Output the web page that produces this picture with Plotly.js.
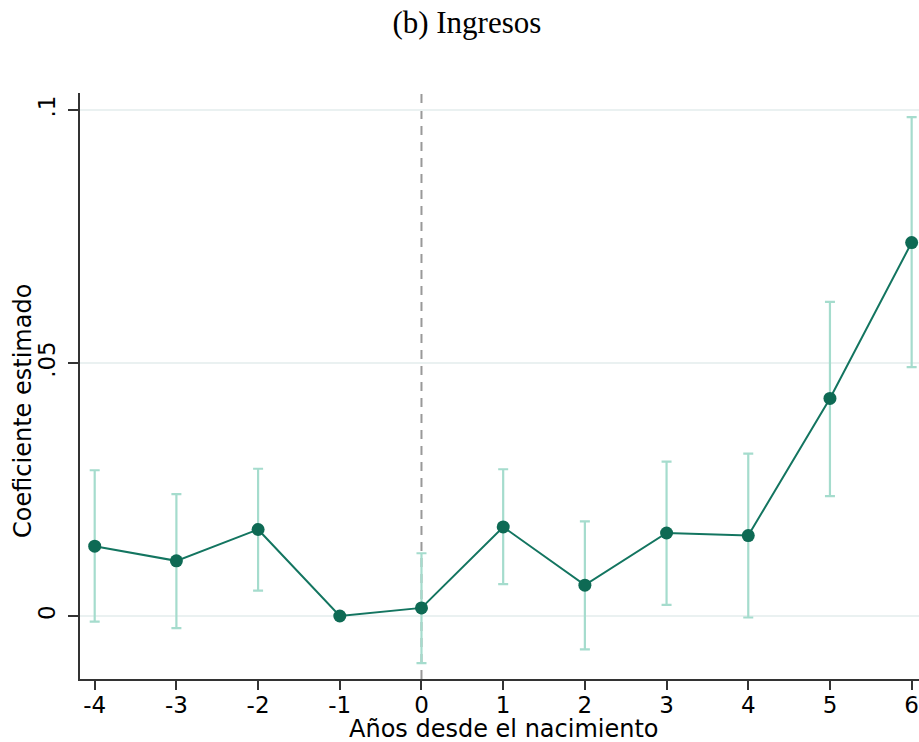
<!DOCTYPE html>
<html>
<head>
<meta charset="utf-8">
<script src="https://cdn.plot.ly/plotly-3.0.1.min.js"></script>
<style>html,body{margin:0;padding:0;background:#fff;}#chart{width:919px;height:742px;}</style>
</head>
<body>
<div id="chart"></div>
<script>
const years = [-4, -3, -2, -1, 0, 1, 2, 3, 4, 5, 6];
const coef  = [0.0138, 0.0109, 0.0171, 0.0, 0.0016, 0.0176, 0.0061, 0.0164, 0.0159, 0.0430, 0.0738];
const ciLow = [-0.0011, -0.0024, 0.0050, 0.0, -0.0093, 0.0063, -0.0066, 0.0022, -0.0003, 0.0237, 0.0492];
const ciHigh= [0.0288, 0.0241, 0.0291, 0.0, 0.0124, 0.0290, 0.0187, 0.0305, 0.0321, 0.0621, 0.0986];
const yTickVals = [0, 0.05, 0.1];
const yTickText = ['0', '.05', '.1'];
const xTickVals = [-4, -3, -2, -1, 0, 1, 2, 3, 4, 5, 6];

const font = 'DejaVu Sans, sans-serif';

const traces = [
  {
    x: years, y: coef, type: 'scatter', mode: 'markers',
    marker: {size: 0.1, color: 'rgba(0,0,0,0)'},
    error_y: {
      type: 'data', symmetric: false,
      array: ciHigh.map((h, i) => h - coef[i]),
      arrayminus: coef.map((c, i) => c - ciLow[i]),
      color: '#a5dccd', thickness: 2.2, width: 5
    },
    hoverinfo: 'skip', showlegend: false
  },
  {
    x: years, y: coef, type: 'scatter', mode: 'lines+markers',
    line: {color: '#137560', width: 2},
    marker: {color: '#0e6a54', size: 13},
    showlegend: false
  }
];

const layout = {
  width: 919, height: 742,
  margin: {l: 80, r: 0, t: 93, b: 63},
  paper_bgcolor: '#fff', plot_bgcolor: '#fff',
  title: {text: '(b) Ingresos', font: {family: 'Liberation Serif, serif', size: 31, color: '#000'},
          x: 0.508, xanchor: 'center', y: 0.97, yanchor: 'middle', yref: 'container'},
  xaxis: {
    range: [-4.18, 6.09], tickvals: xTickVals, ticktext: xTickVals.map(String),
    showgrid: false, zeroline: false,
    showline: true, linecolor: '#333', linewidth: 2,
    ticks: 'outside', ticklen: 9, tickwidth: 2, tickcolor: '#333',
    ticklabeloverflow: 'allow', ticklabelstandoff: -5,
    tickfont: {family: font, size: 23, color: '#000'}
  },
  yaxis: {
    range: [-0.01245, 0.10336], tickvals: yTickVals, ticktext: yTickText,
    showgrid: true, gridcolor: '#eaf1f1', gridwidth: 1.5, zeroline: false,
    showline: true, linecolor: '#333', linewidth: 2,
    ticks: 'outside', ticklen: 10, tickwidth: 2, tickcolor: '#333',
    tickangle: -90, ticklabelstandoff: 4,
    tickfont: {family: font, size: 23, color: '#000'}
  },
  annotations: [
    {
      text: 'Años desde el nacimiento', xref: 'paper', yref: 'paper', x: 0.505, y: 0,
      xanchor: 'center', yanchor: 'middle', yshift: -50, showarrow: false,
      font: {family: font, size: 24, color: '#000'}
    },
    {
      text: 'Coeficiente estimado', xref: 'paper', yref: 'paper', x: 0, y: 0.5,
      xanchor: 'center', yanchor: 'middle', xshift: -57, yshift: -25, textangle: -90, showarrow: false,
      font: {family: font, size: 24, color: '#000'}
    }
  ],
  shapes: [{
    type: 'line', xref: 'x', yref: 'paper', x0: 0, x1: 0, y0: 0, y1: 1,
    line: {color: '#999', width: 2, dash: '9px,7px'}, layer: 'below'
  }]
};

Plotly.newPlot('chart', traces, layout, {displayModeBar: false, staticPlot: true});
</script>
</body>
</html>
